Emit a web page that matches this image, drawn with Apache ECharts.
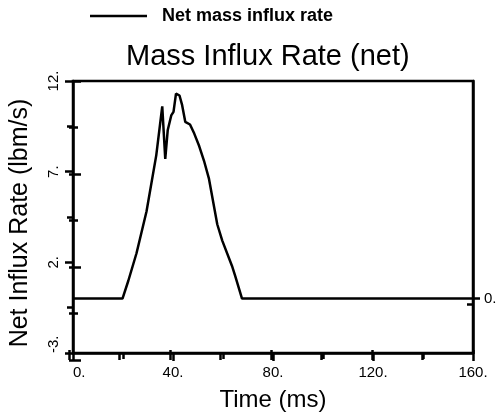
<!DOCTYPE html>
<html>
<head>
<meta charset="utf-8">
<script src="https://cdn.jsdelivr.net/npm/echarts@6/dist/echarts.min.js"></script>
<style>
html,body{margin:0;padding:0;background:#fff;}
#chart{width:501px;height:417px;}
</style>
</head>
<body>
<div id="chart"></div>
<script>
// ---- data ----
const seriesName = 'Net mass influx rate';
const timeMs =  [0, 19.8, 22.1, 25.4, 29.4, 33.3, 35.7, 36.9, 37.9, 39.3, 40.2, 41.2, 42.6, 43.6, 44.9, 46.8, 48.5, 50.5, 52.4, 54.4, 57.7, 59.7, 63.6, 64.9, 67.6, 160];
const netRate = [0, 0,    0.97, 2.5,  4.8,  7.9,  10.6, 7.7,  9.3,  10.1, 10.3, 11.3, 11.2, 10.7, 9.75, 9.6,  9.1,  8.4,  7.6,  6.6,  4.1,  3.2,  1.8,  1.24, 0,    0];
const xTicks = [0, 40, 80, 120, 160];
const yTicks = [-3, 2, 7, 12];

const font = 'Liberation Sans, Arial, Helvetica, sans-serif';
const points = timeMs.map((t, i) => [t, netRate[i]]);
const black = '#000';
const lw = 2.5;

const gridRect = { left: 69, right: 28, top: 81, bottom: 57 };

const chart = echarts.init(document.getElementById('chart'), null, { renderer: 'canvas' });
chart.setOption({
  animation: false,
  backgroundColor: '#fff',
  title: {
    text: 'Mass Influx Rate (net)',
    left: 121, top: 37,
    textStyle: { fontFamily: font, fontSize: 29, fontWeight: 'normal', color: black }
  },
  legend: {
    data: [{ name: seriesName, icon: 'rect' }],
    left: 90, top: 7, padding: 0,
    itemWidth: 57, itemHeight: 2.5,
    textStyle: { fontFamily: font, fontSize: 18, fontWeight: 'bold', color: black, padding: [0, 0, 0, 10] }
  },
  grid: [
    Object.assign({ show: true, borderColor: black, borderWidth: lw, backgroundColor: 'transparent' }, gridRect),
    Object.assign({}, gridRect)
  ],
  xAxis: [
    {
      gridIndex: 0, type: 'value', position: 'bottom',
      min: xTicks[0], max: xTicks[xTicks.length - 1], interval: 40,
      axisLine: { show: true, onZero: false, lineStyle: { color: black, width: lw } },
      axisTick: { show: true, inside: false, length: 8, lineStyle: { color: black, width: 2.5 } },
      minorTick: { show: true, splitNumber: 2, length: 6, lineStyle: { color: black, width: 2.5 } },
      axisLabel: { show: true, formatter: v => v + '.', fontFamily: font, fontSize: 15, color: black, margin: 12, alignMinLabel: 'left', alignMaxLabel: 'center' },
      splitLine: { show: false },
      name: 'Time (ms)', nameLocation: 'middle', nameGap: 35,
      nameTextStyle: { fontFamily: font, fontSize: 24, color: black }
    },
    {
      gridIndex: 1, type: 'value', position: 'bottom',
      min: xTicks[0], max: xTicks[xTicks.length - 1], interval: 40,
      axisLine: { show: false, onZero: false },
      axisTick: { show: true, inside: true, length: 10, lineStyle: { color: black, width: 2.5 } },
      minorTick: { show: true, splitNumber: 2, length: 7, lineStyle: { color: black, width: 2.5 } },
      axisLabel: { show: false },
      splitLine: { show: false }
    }
  ],
  yAxis: [
    {
      gridIndex: 0, type: 'value', position: 'left',
      min: yTicks[0], max: yTicks[yTicks.length - 1], interval: 5,
      axisLine: { show: true, onZero: false, lineStyle: { color: black, width: lw } },
      axisTick: { show: true, inside: false, length: 8, lineStyle: { color: black, width: 2.5 } },
      minorTick: { show: true, splitNumber: 2, length: 6, lineStyle: { color: black, width: 2.5 } },
      axisLabel: { show: true, rotate: 90, formatter: v => v + '.', fontFamily: font, fontSize: 15, color: black, margin: 12, alignMinLabel: 'left' },
      splitLine: { show: false },
      name: 'Net Influx Rate (lbm/s)', nameLocation: 'middle', nameGap: 40, nameRotate: 90,
      nameTextStyle: { fontFamily: font, fontSize: 25, color: black, padding: [0, 12, 0, 0] }
    },
    {
      gridIndex: 0, type: 'value', position: 'right',
      min: yTicks[0], max: yTicks[yTicks.length - 1], interval: 5,
      axisLine: { show: true, onZero: false, lineStyle: { color: black, width: lw } },
      axisTick: { show: true, inside: false, length: 7, customValues: [0], lineStyle: { color: black, width: 2.5 } },
      axisLabel: { show: true, customValues: [0], formatter: v => v + '.', fontFamily: font, fontSize: 15, color: black, margin: 11 },
      splitLine: { show: false }
    },
    {
      gridIndex: 1, type: 'value', position: 'left',
      min: yTicks[0], max: yTicks[yTicks.length - 1], interval: 5,
      axisLine: { show: false, onZero: false },
      axisTick: { show: true, inside: true, length: 12, lineStyle: { color: black, width: 2.5 } },
      minorTick: { show: true, splitNumber: 2, length: 9, lineStyle: { color: black, width: 2.5 } },
      axisLabel: { show: false },
      splitLine: { show: false }
    },
    {
      gridIndex: 1, type: 'value', position: 'right',
      min: yTicks[0], max: yTicks[yTicks.length - 1], interval: 5,
      axisLine: { show: false, onZero: false },
      axisTick: { show: true, inside: true, length: 6, customValues: [0], lineStyle: { color: black, width: 2.5 } },
      axisLabel: { show: false },
      splitLine: { show: false }
    }
  ],
  series: [
    {
      name: seriesName, type: 'line',
      xAxisIndex: 0, yAxisIndex: 0,
      data: points,
      symbol: 'none', smooth: false,
      lineStyle: { color: black, width: 2.5 },
      itemStyle: { color: black }
    }
  ]
});
</script>
</body>
</html>
